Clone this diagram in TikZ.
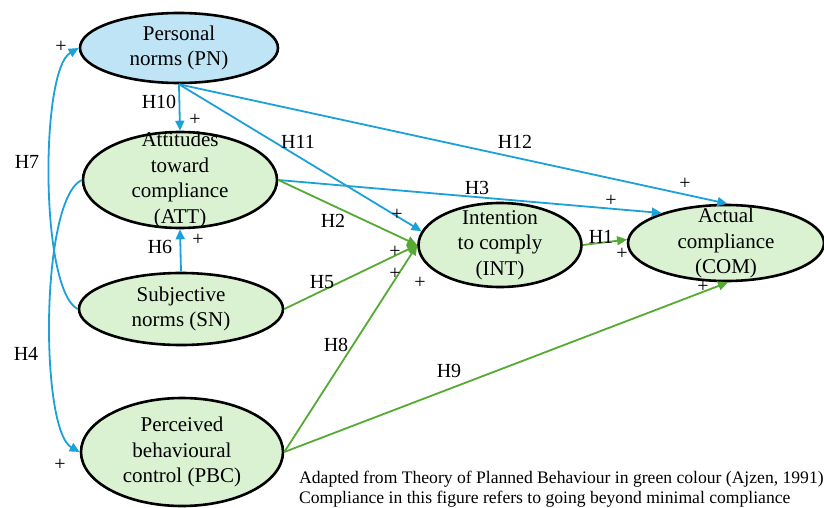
\documentclass[tikz,border=0pt]{standalone}
\usepackage{fontspec}
\setmainfont{Liberation Serif}
\usetikzlibrary{arrows.meta,shapes.geometric}

\definecolor{lineblue}{RGB}{28,160,218}
\definecolor{linegreen}{RGB}{84,170,50}
\definecolor{fillgreen}{RGB}{218,241,210}
\definecolor{fillblue}{RGB}{190,228,245}

\begin{document}
\begin{tikzpicture}[
  x=1pt, y=-1pt,
  every node/.style={font=\fontsize{20}{24}\selectfont},
  var/.style={ellipse, draw, line width=2.6pt, fill=fillgreen, inner sep=0pt},
  pnvar/.style={var, fill=fillblue},
  txt/.style={font=\fontsize{21}{25.5}\selectfont, align=center, inner sep=0pt},
  arrb/.style={-{Triangle[length=10pt,width=9pt]}, line width=1.8pt, draw=lineblue},
  arrg/.style={arrb, draw=linegreen},
  hyp/.style={inner sep=0pt},
  sign/.style={inner sep=0pt},
]
  \useasboundingbox (0,0) rectangle (824,508);
  % constructs
  \node[pnvar, minimum width=198pt, minimum height=70pt,
        label={[txt]center:Personal\\norms (PN)}] (pn) at (179,48) {};
  \node[var, minimum width=194pt, minimum height=96pt,
        label={[txt]center:Attitudes\\toward\\compliance\\(ATT)}] (att) at (180,180) {};
  \node[var, minimum width=204pt, minimum height=72pt,
        label={[txt]center:Subjective\\norms (SN)}] (sn) at (181,309) {};
  \node[var, minimum width=202pt, minimum height=108pt,
        label={[txt]center:Perceived\\behavioural\\control (PBC)}] (pbc) at (182,452) {};
  \node[var, minimum width=163pt, minimum height=84pt,
        label={[txt]center:Intention\\to comply\\(INT)}] (int) at (500,245) {};
  \node[var, minimum width=196pt, minimum height=76pt,
        label={[txt]center:Actual\\compliance\\(COM)}] (com) at (726,243) {};

  % paths
  \draw[arrb] (pn.south) -- (att.north);
  \draw[arrb] (pn.south) -- (int.170);
  \draw[arrb] (pn.south) -- (com.88);
  \draw[arrb] (att.east) -- (com.155);
  \draw[arrb] (sn.north) -- (att.south);
  \draw[arrb] (sn.west) .. controls (40,290) and (40,70) .. (pn.west);
  \draw[arrb] (att.west) .. controls (40,200) and (40,430) .. (pbc.west);
  \draw[arrg] (att.east) -- (int.west);
  \draw[arrg] (sn.east) -- (int.west);
  \draw[arrg] (pbc.east) -- (int.west);
  \draw[arrg] (pbc.east) -- (com.-87);
  \draw[arrg] (int.east) -- (com.178);

  % hypotheses
  \node[hyp] (h1) at (601,237) {H1};
  \node[hyp] (h2) at (333,221) {H2};
  \node[hyp] (h3) at (477,188) {H3};
  \node[hyp] (h4) at (26,354) {H4};
  \node[hyp] (h5) at (322,282) {H5};
  \node[hyp] (h6) at (160,247) {H6};
  \node[hyp] (h7) at (27,162) {H7};
  \node[hyp] (h8) at (336,345) {H8};
  \node[hyp] (h9) at (449,371) {H9};
  \node[hyp] (h10) at (159,102) {H10};
  \node[hyp] (h11) at (298,142) {H11};
  \node[hyp] (h12) at (515,142) {H12};

  % signs
  \node[sign] (s1) at (622,254) {+};
  \node[sign] (s2) at (395,252) {+};
  \node[sign] (s3) at (611,201) {+};
  \node[sign] (s4) at (60,465) {+};
  \node[sign] (s5) at (395,274) {+};
  \node[sign] (s6) at (198,240) {+};
  \node[sign] (s7) at (61,47) {+};
  \node[sign] (s8) at (420,283) {+};
  \node[sign] (s9) at (703,287) {+};
  \node[sign] (s10) at (195,120) {+};
  \node[sign] (s11) at (397,215) {+};
  \node[sign] (s12) at (685,184) {+};

  \node[anchor=north west, align=left, inner sep=0pt,
        font=\fontsize{17.6}{20}\selectfont] (note) at (299,470.5)
    {Adapted from Theory of Planned Behaviour in green colour (Ajzen, 1991)\\
     Compliance in this figure refers to going beyond minimal compliance};
\end{tikzpicture}
\end{document}
